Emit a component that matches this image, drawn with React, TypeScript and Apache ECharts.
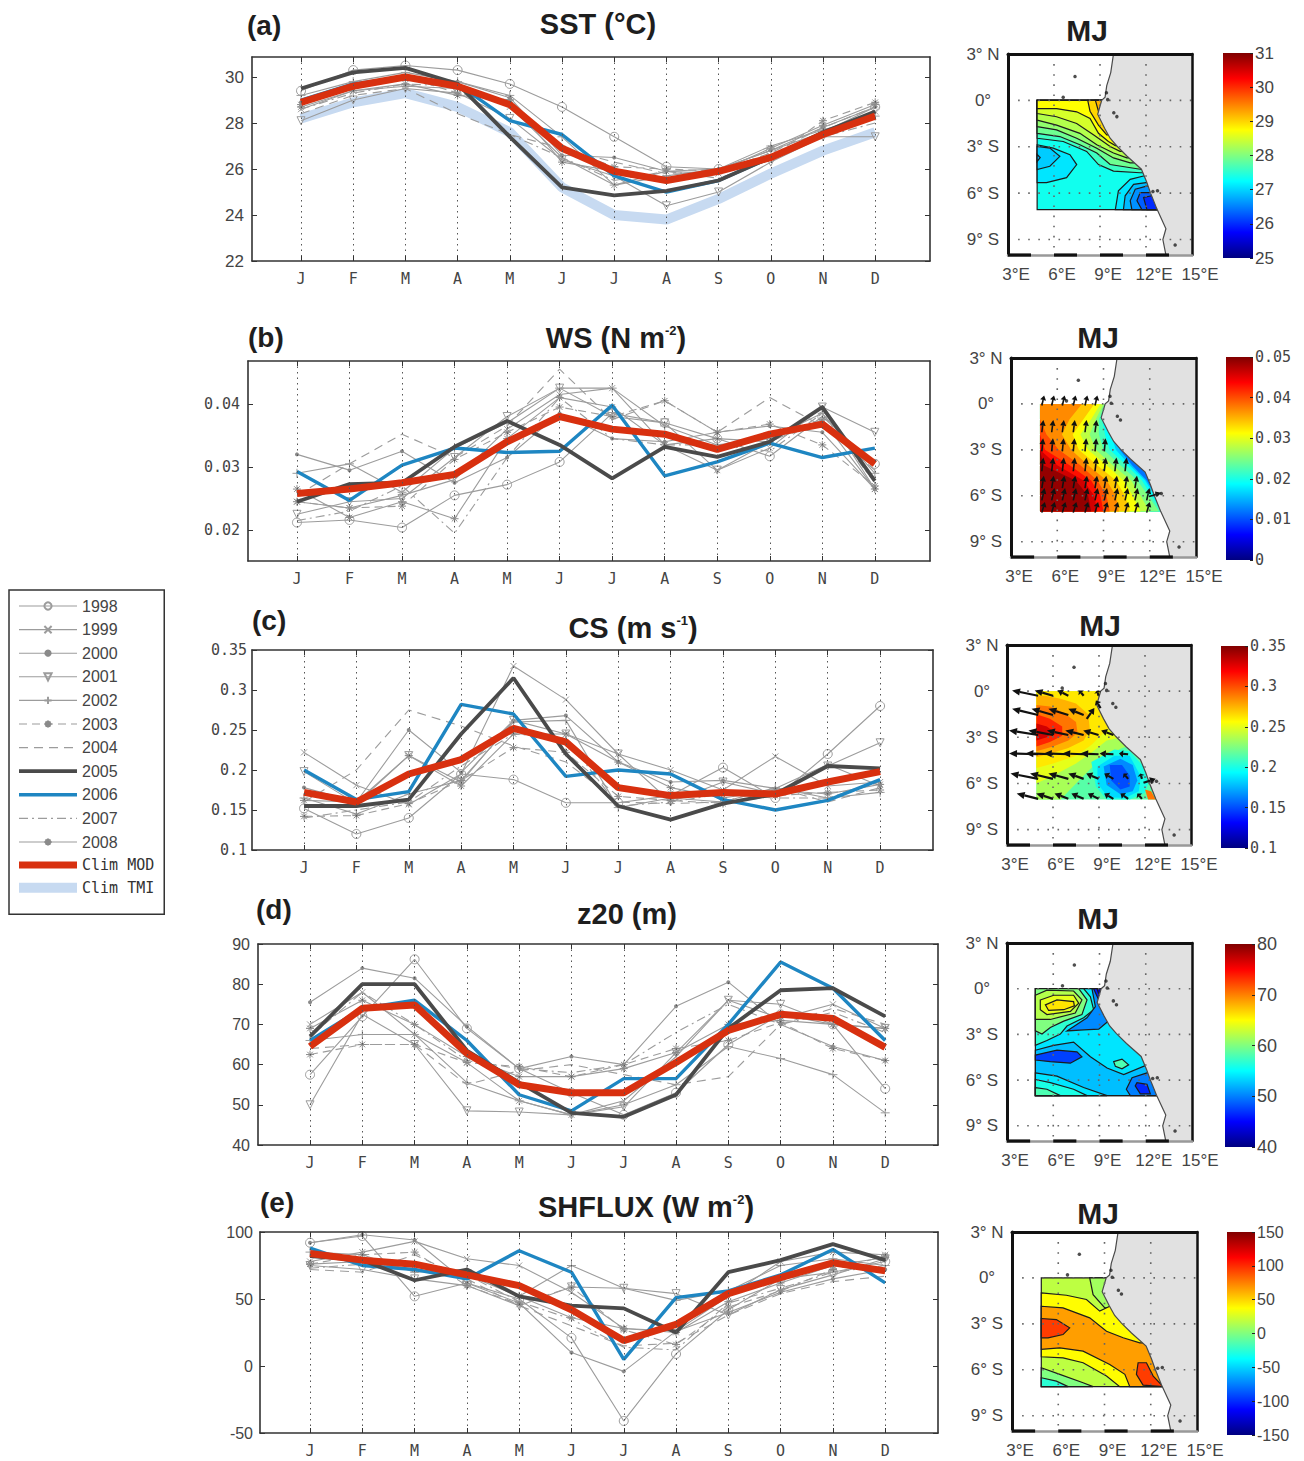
import React, { useEffect, useRef } from "react";
import * as echarts from "echarts";

const MONTHS = ["J", "F", "M", "A", "M", "J", "J", "A", "S", "O", "N", "D"];
const MONTH_TICKS = [1, 2, 3, 4, 5, 6, 7, 8, 9, 10, 11, 12];
const YEARS = ["1998", "1999", "2000", "2001", "2002", "2003", "2004", "2005", "2006", "2007", "2008"];

const SST_YEARS = [
  [29.4, 30.3, 30.5, 30.3, 29.7, 28.7, 27.4, 26.1, 26.0, 26.8, 27.6, 28.7],
  [28.6, 29.4, 29.6, 29.5, 28.7, 26.5, 25.3, 25.9, 25.8, 26.5, 27.5, 28.5],
  [28.9, 29.6, 29.9, 29.8, 29.1, 26.6, 26.5, 25.9, 26.0, 26.8, 27.8, 28.7],
  [28.1, 29.0, 29.5, 29.3, 28.2, 26.4, 25.7, 24.4, 25.0, 26.3, 27.4, 27.4],
  [29.2, 29.8, 30.2, 29.8, 29.2, 27.4, 25.3, 25.7, 26.0, 27.0, 27.7, 28.3],
  [28.8, 29.5, 30.0, 29.3, 29.0, 26.9, 26.1, 26.0, 25.9, 26.5, 28.1, 28.9],
  [28.4, 29.2, 29.5, 28.4, 27.5, 26.9, 26.3, 25.8, 25.9, 26.7, 27.8, 28.7],
  [29.5, 30.2, 30.4, 29.7, 27.4, 25.2, 24.85, 25.05, 25.5, 26.5, 27.6, 28.5],
  [29.0, 29.7, 30.0, 29.7, 28.1, 27.5, 25.7, 25.0, 25.5, 26.5, 27.5, 28.3],
  [28.6, 29.3, 29.7, 29.6, 27.5, 26.5, 25.5, 25.9, 25.6, 26.4, 27.4, 28.0],
  [28.7, 29.4, 29.7, 29.2, 29.0, 26.3, 25.9, 25.6, 25.9, 26.9, 27.9, 28.8],
];
const SST_CLIM_MOD = [28.9, 29.6, 30.0, 29.6, 28.8, 26.9, 25.9, 25.5, 25.9, 26.5, 27.5, 28.3];
const SST_CLIM_TMI = [28.2, 28.9, 29.3, 28.7, 27.6, 25.2, 24.0, 23.8, 24.7, 25.8, 26.8, 27.6];

const WS_YEARS = [
  [0.0212, 0.0216, 0.0204, 0.0255, 0.0272, 0.0308, 0.0385, 0.037, 0.0345, 0.0317, 0.038, 0.0305],
  [0.0245, 0.0235, 0.0255, 0.028, 0.036, 0.0415, 0.0425, 0.0335, 0.0295, 0.033, 0.0395, 0.0265],
  [0.032, 0.0295, 0.0325, 0.0275, 0.0315, 0.0385, 0.0345, 0.034, 0.0355, 0.0365, 0.0355, 0.0265],
  [0.0225, 0.0245, 0.025, 0.0315, 0.038, 0.0425, 0.038, 0.037, 0.0295, 0.034, 0.0395, 0.0355],
  [0.029, 0.0305, 0.026, 0.033, 0.037, 0.0425, 0.0425, 0.0365, 0.0335, 0.0345, 0.0385, 0.029],
  [0.0245, 0.0235, 0.0238, 0.0312, 0.0355, 0.0395, 0.038, 0.0405, 0.0355, 0.0368, 0.0335, 0.027],
  [0.0255, 0.0305, 0.0352, 0.0315, 0.0365, 0.0455, 0.0375, 0.0405, 0.0355, 0.041, 0.0365, 0.0295],
  [0.0245, 0.0273, 0.0275, 0.0332, 0.0373, 0.0335, 0.0282, 0.0332, 0.0316, 0.034, 0.0395, 0.0278],
  [0.0293, 0.0247, 0.0303, 0.033, 0.0323, 0.0325, 0.0398, 0.0286, 0.0308, 0.0338, 0.0315, 0.033],
  [0.0215, 0.023, 0.027, 0.0195, 0.0315, 0.041, 0.0345, 0.0335, 0.0335, 0.0325, 0.0385, 0.0275],
  [0.0265, 0.022, 0.0245, 0.0218, 0.0345, 0.041, 0.0395, 0.0335, 0.0345, 0.034, 0.0375, 0.0265],
];
const WS_CLIM_MOD = [0.0258, 0.0265, 0.0275, 0.0288, 0.034, 0.038, 0.036, 0.0352, 0.0328, 0.0352, 0.0368, 0.0305];

const CS_YEARS = [
  [0.152, 0.12, 0.14, 0.195, 0.188, 0.159, 0.159, 0.168, 0.203, 0.165, 0.22, 0.28],
  [0.222, 0.181, 0.157, 0.195, 0.33, 0.288, 0.22, 0.2, 0.175, 0.217, 0.18, 0.185],
  [0.178, 0.16, 0.25, 0.197, 0.262, 0.268, 0.21, 0.185, 0.187, 0.177, 0.207, 0.18],
  [0.198, 0.158, 0.218, 0.185, 0.262, 0.245, 0.22, 0.16, 0.185, 0.17, 0.205, 0.234],
  [0.165, 0.145, 0.17, 0.187, 0.26, 0.262, 0.153, 0.165, 0.16, 0.178, 0.165, 0.172],
  [0.142, 0.143, 0.158, 0.187, 0.228, 0.222, 0.167, 0.162, 0.158, 0.168, 0.172, 0.175],
  [0.16, 0.2, 0.275, 0.255, 0.23, 0.21, 0.16, 0.158, 0.16, 0.178, 0.16, 0.178],
  [0.155, 0.155, 0.163, 0.245, 0.315, 0.22, 0.155, 0.138, 0.158, 0.17, 0.205, 0.202],
  [0.2, 0.163, 0.173, 0.282, 0.27, 0.192, 0.2, 0.195, 0.163, 0.15, 0.162, 0.188],
  [0.14, 0.15, 0.16, 0.205, 0.245, 0.24, 0.155, 0.16, 0.17, 0.165, 0.165, 0.185],
  [0.162, 0.16, 0.218, 0.18, 0.245, 0.245, 0.21, 0.178, 0.165, 0.175, 0.17, 0.182],
];
const CS_CLIM_MOD = [0.172, 0.16, 0.195, 0.213, 0.252, 0.235, 0.178, 0.168, 0.172, 0.17, 0.185, 0.198];

const Z20_YEARS = [
  [57.5, 72, 86.2, 69, 59, 53, 47.5, 53, 65, 72.5, 70, 54],
  [70, 78, 67.5, 60.5, 51, 47.5, 51, 62, 76, 71.5, 75, 69],
  [75.5, 84, 81.5, 69.5, 59, 62, 60, 74.5, 80.5, 70, 64.5, 61],
  [50, 72.5, 65, 48.5, 48.2, 47.5, 49.5, 63, 76, 75, 70, 69],
  [66, 67.5, 67.5, 55.5, 51, 47.5, 50, 55, 64.5, 61.5, 57.5, 48],
  [62.5, 65, 65, 60.5, 59.5, 57, 60, 64, 66, 70.5, 64, 61],
  [64, 65, 65, 55, 58.5, 60, 57.5, 55, 57, 70, 74, 70],
  [67, 80, 80, 63.5, 55.5, 48, 47, 52.5, 69, 78.5, 79, 72],
  [66, 74, 76, 66, 52.5, 48.5, 56.5, 56.5, 70, 85.5, 79, 66],
  [67, 78, 70, 61, 59, 58, 60, 68, 75, 70, 73, 68],
  [69, 76, 70, 62, 57, 57, 59, 63, 70, 71, 70, 69],
];
const Z20_CLIM_MOD = [64.5, 74, 74.8, 62.8, 55, 53, 53, 60.5, 68.5, 72.5, 71.5, 64.3];

const SHF_YEARS = [
  [92, 97, 52, 62, 50, 21, -41, 9, 42, 65, 70, 78],
  [78, 85, 93, 80, 75, 55, 28, 26, 52, 78, 85, 83],
  [92, 98, 94, 62, 47, 10, -4, 26, 40, 55, 65, 72],
  [75, 72, 65, 60, 45, 59, 58, 54, 38, 57, 68, 80],
  [85, 83, 70, 72, 52, 75, 58, 49, 56, 75, 80, 75],
  [76, 83, 85, 60, 46, 59, 27, 16, 44, 56, 72, 82],
  [72, 70, 83, 65, 45, 30, 15, 17, 38, 54, 63, 67],
  [82, 79, 64, 72, 52, 45, 43, 25, 70, 79, 91, 79],
  [88, 75, 72, 65, 86, 70, 5, 51, 56, 68, 87, 62],
  [73, 76, 75, 68, 48, 35, 14, 12, 47, 58, 70, 75],
  [76, 78, 72, 68, 52, 36, 28, 25, 48, 62, 75, 81],
];
const SHF_CLIM_MOD = [84, 79, 76, 68, 60, 42, 19, 31, 54, 66, 77, 71];

// Map data, in degrees of longitude and latitude
const COAST = [[9.88, 3], [9.7, 1.8], [9.44, 0.95], [9.33, 0.2], [9.11, 0], [8.85, -0.9], [9.3, -1.8], [9.66, -2.45], [10.1, -2.95], [10.75, -3.6], [11.7, -4.45], [12.05, -5.3], [12.3, -6], [12.7, -7], [13.3, -8.3], [13.1, -9], [13.3, -10]];
const LAND_EAST = [[15, -10], [15, 3]];
const SPECKS = [[7.37, 1.55], [6.6, 0.2], [9.9, -0.8], [10.1, -1.05], [12.75, -5.85], [12.45, -5.9], [9.42, 0.5], [9.5, 0.05], [13.9, -9.35]];
const MAP_LON_TICKS = [3, 6, 9, 12, 15];
const MAP_LAT_TICKS = [3, 0, -3, -6, -9];
const GRATICULE_LONS = [6, 9, 12];
const GRATICULE_LATS = [0, -3, -6, -9];
const BAR_STARTS = [3, 6, 9, 12];
const BAR_LENGTH = 1.5;

const SST_RINGS: [number, number[][]][] = [
  [27.35, [[4.9, 0], [14.4, 0], [14.4, -7.06], [4.9, -7.06]]],
  [27.6, [[4.9, -2.45], [6.6, -2.66], [8.13, -3.3], [8.9, -4.15], [9.88, -4.57], [11.62, -4.68], [14.4, -4.68], [14.4, 0], [4.9, 0]]],
  [27.9, [[4.9, -2.13], [6.38, -2.34], [7.69, -2.87], [8.79, -3.4], [9.66, -4.15], [11.73, -4.47], [14.4, -4.47], [14.4, 0], [4.9, 0]]],
  [28.1, [[4.9, -1.7], [6.17, -1.91], [7.48, -2.45], [8.79, -3.09], [9.88, -3.72], [10.97, -4.04], [14.4, -4.04], [14.4, 0], [4.9, 0]]],
  [28.3, [[4.9, -1.28], [6.17, -1.6], [7.69, -2.13], [8.79, -2.87], [9.88, -3.4], [10.75, -3.72], [14.4, -3.72], [14.4, 0], [4.9, 0]]],
  [28.5, [[4.9, -0.85], [6.17, -1.06], [7.48, -1.49], [8.57, -2.23], [9.66, -2.98], [10.31, -3.3], [14.4, -3.3], [14.4, 0], [4.9, 0]]],
  [28.75, [[4.9, -0.53], [6.17, -0.53], [7.48, -0.74], [8.35, -1.17], [8.9, -2.13], [9.55, -2.66], [10, -2.92], [14.4, -2.92], [14.4, 0], [4.9, 0]]],
  [29.0, [[8.2, 0], [8.35, -0.7], [8.9, -1.6], [9.44, -2.23], [14.4, -2.23], [14.4, 0]]],
  [29.2, [[8.7, 0], [8.9, -0.7], [9.2, -1.3], [14.4, -1.3], [14.4, 0]]],
  [27.1, [[4.9, -2.87], [5.95, -3.09], [7.04, -3.51], [7.48, -4.15], [6.82, -5], [5.51, -5.32], [4.9, -5.32]]],
  [26.95, [[4.9, -2.98], [5.73, -3.09], [6.38, -3.62], [5.73, -4.26], [4.9, -4.47]]],
  [26.8, [[4.9, -3.5], [5.1, -3.7], [4.9, -3.95]]],
  [27.1, [[11.84, -4.89], [10.97, -5.11], [10.2, -5.85], [10, -7.06], [14.4, -7.06], [14.4, -4.89]]],
  [26.85, [[12, -5.32], [11.19, -5.43], [10.64, -6.17], [10.53, -7.06], [14.4, -7.06], [14.4, -5.32]]],
  [26.6, [[12.1, -5.53], [11.3, -5.74], [10.97, -6.49], [11.08, -7.06], [14.4, -7.06], [14.4, -5.53]]],
  [26.3, [[12.3, -5.96], [11.62, -5.96], [11.41, -6.49], [11.73, -7.06], [14.4, -7.06], [14.4, -5.96]]],
  [26.0, [[12.39, -6.17], [11.84, -6.28], [12.06, -7.06], [14.4, -7.06], [14.4, -6.17]]],
];

const WS_BAND_LATS = [0, -1, -2, -3, -4, -5, -6, -7.03];
const WS_BANDS: [number, number[]][] = [
  [0.012, [14, 14, 14, 14, 14, 14, 14, 14]],
  [0.016, [10, 9.6, 9.8, 10.05, 10.85, 11.8, 12.4, 13]],
  [0.019, [9.6, 9.1, 9.5, 9.8, 10.7, 11.7, 12.3, 13]],
  [0.022, [9.3, 8.9, 9.1, 9.4, 10.5, 11.5, 12.1, 12.8]],
  [0.025, [9.1, 8.7, 8.7, 9.0, 10.1, 11.2, 11.9, 12.6]],
  [0.028, [9.0, 8.5, 8.1, 8.5, 9.6, 10.8, 11.4, 12]],
  [0.031, [8.8, 8.2, 7.5, 8, 9.2, 10.3, 10.9, 11.4]],
  [0.034, [8.4, 7.7, 7, 7.4, 8.6, 9.8, 10.4, 10.7]],
  [0.037, [7.6, 6.8, 6.3, 6.9, 8, 9.2, 9.8, 10]],
  [0.04, [4.88, 4.88, 5.3, 6.1, 7.5, 8.6, 9.2, 9.4]],
  [0.043, [4.88, 4.88, 4.88, 5.2, 6.8, 8.2, 8.8, 9]],
  [0.046, [4.88, 4.88, 4.88, 4.88, 6, 7.7, 8.4, 8.6]],
  [0.049, [4.88, 4.88, 4.88, 4.88, 5.1, 7.2, 8, 8.2]],
];

const CS_RINGS: [number, number[][]][] = [
  [0.215, [[4.92, 0], [14, 0], [14, -7.05], [4.92, -7.05]]],
  [0.235, [[4.92, -7.05], [6.5, -7.05], [7.5, -6], [8.5, -5], [9.5, -4.2], [10.5, -3.7], [11.2, -3.5], [11.2, 0], [4.92, 0]]],
  [0.25, [[4.92, -6], [6, -5.5], [7.5, -4.7], [8.5, -4], [9.5, -3.2], [10.5, -3], [11.2, 0], [4.92, 0]]],
  [0.262, [[4.92, -5], [6, -4.7], [7.5, -4.2], [8.5, -3.5], [9.2, -2.8], [10, -2], [11, 0], [4.92, 0]]],
  [0.275, [[4.92, -4.3], [6, -4], [7, -3.7], [8, -3.2], [8.4, -2.5], [8.3, -1.5], [7.5, -0.8], [6.5, -0.5], [5.5, -0.3], [4.92, -0.3]]],
  [0.29, [[4.92, -3.9], [6, -3.6], [7, -3.2], [7.6, -2.7], [7.5, -2], [6.7, -1.4], [5.8, -1], [4.92, -0.9]]],
  [0.31, [[4.92, -3.6], [5.8, -3.3], [6.6, -2.9], [6.6, -2.3], [5.8, -1.8], [4.92, -1.5]]],
  [0.33, [[4.92, -3.2], [5.6, -3], [6, -2.6], [5.6, -2.3], [4.92, -2.1]]],
  [0.2, [[8.5, -4.6], [10, -3.8], [11, -3.9], [12, -5], [12.2, -6], [12, -6.6], [11, -7.05], [9.5, -7.05], [8.8, -6.2]]],
  [0.185, [[8.9, -4.9], [10, -4.2], [11, -4.2], [11.7, -5.5], [11.6, -6.5], [10.7, -6.95], [9.6, -6.9], [8.9, -6]]],
  [0.165, [[9.3, -4.9], [10.4, -4.4], [11.2, -4.8], [11.5, -5.8], [11.2, -6.5], [10.4, -6.7], [9.5, -6.1]]],
  [0.15, [[9.7, -4.8], [10.5, -4.8], [11, -5.5], [11, -6.2], [10.4, -6.4], [9.8, -5.8]]],
  [0.29, [[12, -6.4], [12.4, -6.5], [12.7, -7.05], [12.2, -7.05]]],
];

const Z20_RINGS: [number, number[][]][] = [
  [54, [[4.84, 0], [14, 0], [14, -7.02], [4.84, -7.02]]],
  [56.8, [[4.84, 0], [7.97, 0], [8.41, -0.53], [8.62, -1.38], [7.97, -1.91], [6.89, -2.45], [6.46, -2.98], [5.59, -3.4], [4.84, -3.72]]],
  [60, [[4.84, 0], [7.65, 0], [8.19, -0.74], [7.86, -1.7], [6.68, -2.13], [5.81, -2.55], [5.27, -2.98], [4.84, -2.77]]],
  [62, [[4.84, -0.43], [5.59, -0.1], [7.32, -0.15], [7.86, -0.74], [7.43, -1.6], [5.81, -2.02], [4.84, -2.02]]],
  [64, [[5.16, -0.74], [6.03, -0.43], [7.32, -0.43], [7.65, -0.95], [7.11, -1.49], [5.59, -1.7], [5.16, -1.38]]],
  [66, [[5.49, -1.06], [6.24, -0.74], [7.32, -0.85], [7.37, -1.13], [6.68, -1.38], [5.7, -1.43]]],
  [50.4, [[8.51, 0], [8.73, -1.17], [8.19, -1.91], [6.89, -2.77], [7.97, -2.7], [8.95, -2.66], [9.7, -2.02], [11.4, -2.02], [11.4, 0]]],
  [46, [[8.62, 0], [8.95, -0.74], [9.27, -1.17], [11.4, -1.17], [11.4, 0]]],
  [42, [[8.84, 0], [9.01, -0.53], [9.4, -0.74], [9.6, 0]]],
  [52.5, [[4.84, -4.04], [6.03, -3.72], [7.32, -3.51], [8.41, -4.47], [9.49, -5.21], [10.57, -5.64], [12.08, -5], [13.16, -5], [13.16, -7.02], [4.84, -7.02]]],
  [47.5, [[4.84, -4.36], [6.24, -4.04], [7.54, -4.15], [7.86, -4.47], [7.11, -4.89], [5.81, -4.79], [4.84, -4.68]]],
  [54, [[4.84, -5.53], [6.24, -5.74], [7.97, -6.49], [9.49, -7.02], [4.84, -7.02]]],
  [56, [[4.84, -5.96], [5.81, -6.17], [7.32, -6.6], [8.19, -7.02], [4.84, -7.02]]],
  [58, [[4.84, -6.49], [5.59, -6.6], [6.46, -7.02], [4.84, -7.02]]],
  [50, [[12.08, -5.53], [11.11, -5.85], [10.74, -6.6], [11, -7.02], [13.16, -7.02], [13.16, -5.53]]],
  [46.5, [[11.32, -6.38], [11.43, -6.17], [12.08, -6.28], [12.3, -6.91], [11.65, -6.91]]],
  [58, [[9.92, -4.79], [10.46, -4.62], [10.89, -5], [10.46, -5.26], [10.03, -5.1]]],
];

const SHF_RINGS: [number, number[][]][] = [
  [18, [[4.9, 0], [14.1, 0], [14.1, -7.1], [4.9, -7.1]]],
  [10, [[8.04, 0], [8.26, -1.09], [9.02, -1.96], [14.1, -1.96], [14.1, 0]]],
  [38, [[4.9, -0.98], [6.53, -1.13], [7.83, -1.41], [8.69, -2.17], [9.34, -1.85], [14.1, -1.85], [14.1, -7.1], [9.99, -7.1], [9.13, -6.41], [7.61, -5.54], [6.31, -5.22], [4.9, -5.15]]],
  [66, [[4.9, -1.85], [6.31, -1.96], [8.04, -2.61], [9.13, -3.48], [10.21, -3.91], [11.29, -4.24], [14.1, -4.24], [14.1, -7.1], [10.64, -7.1], [10.32, -6.3], [9.34, -5.65], [7.61, -4.78], [6.1, -4.57], [4.9, -4.67]]],
  [95, [[4.9, -2.65], [5.88, -2.72], [6.74, -3.26], [6.31, -3.7], [5.34, -3.91], [4.9, -3.91]]],
  [95, [[11.18, -5.54], [11.72, -5.54], [12.16, -6.41], [12.8, -7.1], [11.5, -7], [11.07, -6.3]]],
  [0, [[4.9, -5.87], [6.1, -6.3], [7.61, -6.85], [8.26, -7.1], [4.9, -7.1]]],
  [-25, [[4.9, -6.52], [5.88, -6.74], [6.64, -7.1], [4.9, -7.1]]],
];

// Arrows: [lon, lat, east extent, north extent], all in degrees
const WS_ARROW_COLS = [5.0, 5.64, 6.33, 7.04, 7.8, 8.45, 9.05, 9.74, 10.4, 11.04, 11.8];
const WS_ARROW_ROWS = [
  [-0.1, 6, 0.15, 0.65],
  [-1.85, 6, 0.1, 0.8],
  [-3.1, 7, 0.08, 0.85],
  [-4.4, 9, 0.1, 0.9],
  [-5.5, 10, 0.13, 0.8],
  [-6.3, 11, 0.18, 0.8],
  [-7.1, 11, 0.2, 0.7],
];
const WS_ARROW_EXTRA = [[11.95, -6.05, 0.8, 0.25]];
const CS_ARROW_COLS = [5.03, 6, 7, 8, 8.97, 9.94, 10.9, 11.8];
const CS_ARROW_ROWS: [number, number, number[]][] = [
  [-0.3, 0.35, [-1.7, -1.2, -0.7, -0.3, -0.1]],
  [-1.55, 0.4, [-1.7, -1.4, -1.3, -1.0]],
  [-2.85, 0.3, [-1.9, -1.6, -1.4, -1.2, -1.0, -0.8]],
  [-4.1, 0.05, [-1.9, -1.8, -1.6, -1.4, -1.2, -0.9, -0.6]],
  [-5.7, 0.35, [-1.8, -1.5, -1.3, -1.0, -0.8, -0.6, -0.3, -0.1]],
  [-7.0, 0.35, [-1.4, -1.1, -0.9, -0.8, -0.7, -0.6, -0.5, -0.3]],
];
const CS_ARROW_EXTRA = [[8.2, -1.8, 0.5, 0.7], [9.1, -1.1, -0.3, 0.5], [11.9, -5.95, 0.8, 0.25]];

const LINE_FONT = "'DejaVu Sans Mono', monospace";
const SANS = "'Liberation Sans', Arial, sans-serif";
const GRAY = "#9c9c9c";
const RED = "#d8300f";

const clamp01 = (v: number) => Math.max(0, Math.min(1, v));
const jet = (t: number) => {
  const r = clamp01(Math.min(4 * t - 1.5, -4 * t + 4.5));
  const g = clamp01(Math.min(4 * t - 0.5, -4 * t + 3.5));
  const b = clamp01(Math.min(4 * t + 0.5, -4 * t + 2.5));
  return `rgb(${Math.round(r * 255)},${Math.round(g * 255)},${Math.round(b * 255)})`;
};

const ASTERISK = "path://M5 0V10M0 5H10M1.5 1.5L8.5 8.5M8.5 1.5L1.5 8.5";
const yearStyle: Record<string, any> = {
  "1998": { symbol: "circle", symbolSize: 9, itemStyle: { color: "transparent", borderColor: GRAY, borderWidth: 1 } },
  "1999": { symbol: "path://M0 0L10 10M10 0L0 10", symbolSize: 6, itemStyle: { color: "transparent", borderColor: GRAY, borderWidth: 1 } },
  "2000": { symbol: "circle", symbolSize: 4, itemStyle: { color: "#8a8a8a" } },
  "2001": { symbol: "path://M0 0H10L5 10Z", symbolSize: 8, itemStyle: { color: "transparent", borderColor: GRAY, borderWidth: 1 } },
  "2002": { symbol: "path://M5 0V10M0 5H10", symbolSize: 9, itemStyle: { color: "transparent", borderColor: GRAY, borderWidth: 1 } },
  "2003": { symbol: ASTERISK, symbolSize: 8, itemStyle: { color: "#8a8a8a", borderColor: "#8a8a8a", borderWidth: 1 }, dash: [8, 5] },
  "2004": { symbol: "none", dash: [9, 6], itemStyle: { color: GRAY } },
  "2005": { symbol: "none", width: 3.8, line: "#4a4a4a", z: 5, itemStyle: { color: "#4a4a4a" } },
  "2006": { symbol: "none", width: 3.4, line: "#1e86c2", z: 4, itemStyle: { color: "#1e86c2" } },
  "2007": { symbol: "none", dash: [9, 4, 2, 4], itemStyle: { color: GRAY } },
  "2008": { symbol: ASTERISK, symbolSize: 8, itemStyle: { color: "#8a8a8a", borderColor: "#8a8a8a", borderWidth: 1 } },
};

const LEGEND_NAMES = [...YEARS, "Clim MOD", "Clim TMI"];
const LEGEND_NO_MARKER = ["2004", "2005", "2006", "2007", "Clim MOD", "Clim TMI"];

const linePanels = [
  { box: [252, 57, 930, 261], x: [0.061, 13.05], y: [22, 30.87], ticks: [22, 24, 26, 28, 30], years: SST_YEARS, clim: SST_CLIM_MOD, tmi: SST_CLIM_TMI, font: SANS, fontSize: 17, margin: 8 },
  { box: [248, 361, 930, 561], x: [0.068, 13.05], y: [0.0151, 0.0468], ticks: [0.02, 0.03, 0.04], years: WS_YEARS, clim: WS_CLIM_MOD, font: LINE_FONT, fontSize: 15, margin: 8 },
  { box: [252, 650, 933, 850], x: [0.007, 13.01], y: [0.1, 0.35], ticks: [0.1, 0.15, 0.2, 0.25, 0.3, 0.35], years: CS_YEARS, clim: CS_CLIM_MOD, font: LINE_FONT, fontSize: 15, margin: 5 },
  { box: [258, 944, 938, 1145], x: [0.005, 13.01], y: [40, 90], ticks: [40, 50, 60, 70, 80, 90], years: Z20_YEARS, clim: Z20_CLIM_MOD, font: SANS, fontSize: 16, margin: 8 },
  { box: [260, 1232, 938, 1433], x: [0.043, 13.01], y: [-50, 100], ticks: [-50, 0, 50, 100], years: SHF_YEARS, clim: SHF_CLIM_MOD, font: SANS, fontSize: 16, margin: 7 },
];

const wsRings: [number, number[][]][] = WS_BANDS.map(([level, lons]) => [
  level,
  [...lons.map((lon, i) => [lon, WS_BAND_LATS[i]]), [4.88, -7.03], [4.88, 0]],
]);
const wsArrows = [
  ...WS_ARROW_ROWS.flatMap(([lat, n, u, v]) => WS_ARROW_COLS.slice(0, n).map((lon) => [lon, lat, u, v])),
  ...WS_ARROW_EXTRA,
];
const csArrows = [
  ...CS_ARROW_ROWS.flatMap(([lat, v, us]) => us.map((u, i) => [CS_ARROW_COLS[i], lat, u, v])),
  ...CS_ARROW_EXTRA,
];

const mapPanels = [
  { box: [1008, 54, 1192, 255], rings: SST_RINGS, stroke: true, range: [25, 31], bar: [1223, 53, 1253, 258], barTicks: [25, 26, 27, 28, 29, 30, 31], font: SANS, barFont: 17, arrows: [] as number[][], shaft: 0, head: 0 },
  { box: [1011, 358, 1196, 557], rings: wsRings, stroke: false, range: [0, 0.05], bar: [1226, 357, 1253, 560], barTicks: [0, 0.01, 0.02, 0.03, 0.04, 0.05], font: LINE_FONT, barFont: 15, arrows: wsArrows, shaft: 1.6, head: 3 },
  { box: [1007, 645, 1191, 845], rings: CS_RINGS, stroke: false, range: [0.1, 0.35], bar: [1221, 646, 1248, 848], barTicks: [0.1, 0.15, 0.2, 0.25, 0.3, 0.35], font: LINE_FONT, barFont: 15, arrows: csArrows, shaft: 2.2, head: 3.6 },
  { box: [1007, 943, 1192, 1141], rings: Z20_RINGS, stroke: true, range: [40, 80], bar: [1225, 944, 1255, 1147], barTicks: [40, 50, 60, 70, 80], font: SANS, barFont: 18, arrows: [] as number[][], shaft: 0, head: 0 },
  { box: [1012, 1232, 1197, 1431], rings: SHF_RINGS, stroke: true, range: [-150, 150], bar: [1227, 1232, 1255, 1435], barTicks: [-150, -100, -50, 0, 50, 100, 150], font: SANS, barFont: 16, arrows: [] as number[][], shaft: 0, head: 0 },
];

const titles: any[] = [
  { text: "(a)", left: 247, top: 25, size: 28, align: "left" },
  { text: "SST (°C)", left: 598, top: 24, size: 29, align: "center" },
  { text: "(b)", left: 248, top: 337, size: 28, align: "left" },
  { text: "{b|WS (N m}{s|-2}{b|)}", left: 616, top: 338, size: 29, align: "center" },
  { text: "(c)", left: 252, top: 620, size: 28, align: "left" },
  { text: "{b|CS (m s}{s|-1}{b|)}", left: 633, top: 628, size: 29, align: "center" },
  { text: "(d)", left: 256, top: 909, size: 28, align: "left" },
  { text: "z20 (m)", left: 627, top: 914, size: 29, align: "center" },
  { text: "(e)", left: 260, top: 1202, size: 28, align: "left" },
  { text: "{b|SHFLUX (W m}{s|-2}{b|)}", left: 646, top: 1207, size: 29, align: "center" },
  { text: "MJ", left: 1087, top: 30, size: 30, align: "center" },
  { text: "MJ", left: 1098, top: 337, size: 30, align: "center" },
  { text: "MJ", left: 1100, top: 625, size: 30, align: "center" },
  { text: "MJ", left: 1098, top: 918, size: 30, align: "center" },
  { text: "MJ", left: 1098, top: 1213, size: 30, align: "center" },
];

function buildOption() {
  const grid: any[] = [];
  const xAxis: any[] = [];
  const yAxis: any[] = [];
  const series: any[] = [];

  const addGrid = (box: number[]) => {
    grid.push({ left: box[0], top: box[1], width: box[2] - box[0], height: box[3] - box[1], containLabel: false, show: false });
    return grid.length - 1;
  };

  linePanels.forEach((p) => {
    const g = addGrid(p.box);
    const xIndex = xAxis.length;
    const yIndex = yAxis.length;
    const frame = { show: true, onZero: false, lineStyle: { color: "#333", width: 1.6 } };
    xAxis.push({
      type: "value", gridIndex: g, position: "bottom", min: p.x[0], max: p.x[1], z: 10, axisLine: frame,
      axisTick: { show: true, inside: true, length: 5, customValues: MONTH_TICKS, lineStyle: { color: "#333" } },
      axisLabel: { show: true, customValues: MONTH_TICKS, formatter: (v: number) => MONTHS[v - 1], fontFamily: LINE_FONT, fontSize: 15, color: "#444", margin: 10 },
      splitLine: { show: true, lineStyle: { type: [1.5, 4], color: "#555", width: 1 } },
    });
    xAxis.push({
      type: "value", gridIndex: g, position: "top", min: p.x[0], max: p.x[1], z: 10, axisLine: frame,
      axisTick: { show: true, inside: true, length: 5, customValues: MONTH_TICKS, lineStyle: { color: "#333" } },
      axisLabel: { show: false }, splitLine: { show: false },
    });
    yAxis.push({
      type: "value", gridIndex: g, position: "left", min: p.y[0], max: p.y[1], z: 10, axisLine: frame,
      axisTick: { show: true, inside: true, length: 5, customValues: p.ticks, lineStyle: { color: "#333" } },
      axisLabel: { show: true, customValues: p.ticks, fontFamily: p.font, fontSize: p.fontSize, color: "#444", margin: p.margin },
      splitLine: { show: false },
    });
    yAxis.push({
      type: "value", gridIndex: g, position: "right", min: p.y[0], max: p.y[1], z: 10, axisLine: frame,
      axisTick: { show: true, inside: true, length: 5, customValues: p.ticks, lineStyle: { color: "#333" } },
      axisLabel: { show: false }, splitLine: { show: false },
    });
    const common = { type: "line", xAxisIndex: xIndex, yAxisIndex: yIndex, silent: true, animation: false };
    if (p.tmi) {
      series.push({
        ...common, name: "Clim TMI", z: 2, symbol: "none", lineStyle: { color: "#c7daf1", width: 10 }, itemStyle: { color: "#c7daf1" },
        data: p.tmi.map((v, i) => [MONTH_TICKS[i], v]),
      });
    }
    YEARS.forEach((name, k) => {
      const s = yearStyle[name];
      series.push({
        ...common, name, z: s.z || 3, symbol: s.symbol, symbolSize: s.symbolSize, showSymbol: s.symbol !== "none",
        lineStyle: { color: s.line || GRAY, width: s.width || 1.1, type: s.dash || "solid" }, itemStyle: s.itemStyle,
        data: p.years[k].map((v, i) => [MONTH_TICKS[i], v]),
      });
    });
    series.push({
      ...common, name: "Clim MOD", z: 6, symbol: "none", lineStyle: { color: RED, width: 7 }, itemStyle: { color: RED },
      data: p.clim.map((v, i) => [MONTH_TICKS[i], v]),
    });
  });

  mapPanels.forEach((p) => {
    const g = addGrid(p.box);
    const xIndex = xAxis.length;
    const yIndex = yAxis.length;
    const thick = (width: number, color = "#111") => ({ show: true, onZero: false, lineStyle: { color, width } });
    xAxis.push({
      type: "value", gridIndex: g, position: "bottom", min: 3, max: 15, z: 10, axisLine: thick(2.5, "#999"),
      axisTick: { show: false }, splitLine: { show: false },
      axisLabel: { show: true, customValues: MAP_LON_TICKS, formatter: (v: number) => `${v}°E`, fontFamily: SANS, fontSize: 17, color: "#444", margin: 11, padding: [0, 0, 0, 16] },
    });
    xAxis.push({ type: "value", gridIndex: g, position: "top", min: 3, max: 15, z: 10, axisLine: thick(3), axisTick: { show: false }, axisLabel: { show: false }, splitLine: { show: false } });
    yAxis.push({
      type: "value", gridIndex: g, position: "left", min: -10, max: 3, z: 10, axisLine: thick(3), axisTick: { show: false }, splitLine: { show: false },
      axisLabel: { show: true, customValues: MAP_LAT_TICKS, formatter: (v: number) => (v > 0 ? `${v}° N` : v < 0 ? `${-v}° S` : "0°"), fontFamily: SANS, fontSize: 17, color: "#444", margin: 25, align: "center", padding: [10, 0, 0, 0] },
    });
    yAxis.push({ type: "value", gridIndex: g, position: "right", min: -10, max: 3, z: 10, axisLine: thick(2.5), axisTick: { show: false }, axisLabel: { show: false }, splitLine: { show: false } });

    const base = { type: "custom", xAxisIndex: xIndex, yAxisIndex: yIndex, silent: true, animation: false, clip: true };
    const [lo, hi] = p.range;
    series.push({
      ...base, z: 2, data: p.rings.map((_, i) => [i, 0]),
      renderItem: (params: any, api: any) => {
        const [level, ring] = p.rings[params.dataIndex];
        return {
          type: "polygon",
          shape: { points: ring.map((c) => api.coord(c)) },
          style: { fill: jet((level - lo) / (hi - lo)), stroke: p.stroke ? "#1c1c1c" : "transparent", lineWidth: p.stroke ? 1.2 : 0 },
        };
      },
    });
    const landRing = [...COAST, ...LAND_EAST];
    series.push({
      ...base, z: 3, data: [[0, 0]],
      renderItem: (_: any, api: any) => ({
        type: "polygon",
        shape: { points: landRing.map((c) => api.coord(c)) },
        style: { fill: "#e1e1e1", stroke: "transparent" },
      }),
    });
    series.push({
      ...base, z: 4, data: [[0, 0]],
      renderItem: (_: any, api: any) => ({
        type: "polyline",
        shape: { points: COAST.map((c) => api.coord(c)) },
        style: { fill: "none", stroke: "#4a4a4a", lineWidth: 1.2 },
      }),
    });
    const graticule = [
      ...GRATICULE_LONS.map((lon) => [[lon, 3], [lon, -10]]),
      ...GRATICULE_LATS.map((lat) => [[3, lat], [15, lat]]),
    ];
    series.push({
      ...base, z: 5, data: graticule.map((_, i) => [i, 0]),
      renderItem: (params: any, api: any) => {
        const [a, b] = graticule[params.dataIndex];
        const pa = api.coord(a);
        const pb = api.coord(b);
        return {
          type: "line",
          shape: { x1: pa[0], y1: pa[1], x2: pb[0], y2: pb[1] },
          style: { stroke: "#666", lineWidth: 1.6, lineDash: [1.6, 8.5] },
        };
      },
    });
    if (p.arrows.length) {
      const arrows = p.arrows;
      series.push({
        ...base, z: 6, data: arrows.map((_, i) => [i, 0]),
        renderItem: (params: any, api: any) => {
          const [lon, lat, u, v] = arrows[params.dataIndex];
          const a = api.coord([lon, lat]);
          const b = api.coord([lon + u, lat + v]);
          const len = Math.hypot(b[0] - a[0], b[1] - a[1]) || 1;
          const ux = (b[0] - a[0]) / len;
          const uy = (b[1] - a[1]) / len;
          const hl = Math.min(8, len * 0.45);
          const neck = [b[0] - ux * hl, b[1] - uy * hl];
          return {
            type: "group",
            children: [
              { type: "line", shape: { x1: a[0], y1: a[1], x2: neck[0], y2: neck[1] }, style: { stroke: "#111", lineWidth: p.shaft } },
              { type: "polygon", shape: { points: [b, [neck[0] - uy * p.head, neck[1] + ux * p.head], [neck[0] + uy * p.head, neck[1] - ux * p.head]] }, style: { fill: "#111" } },
            ],
          };
        },
      });
    }
    series.push({
      type: "scatter", xAxisIndex: xIndex, yAxisIndex: yIndex, silent: true, animation: false, z: 7, symbolSize: 3.5,
      itemStyle: { color: "#222" }, data: SPECKS,
    });
    series.push({
      ...base, clip: false, z: 12, data: BAR_STARTS.map((_, i) => [i, 0]),
      renderItem: (params: any, api: any) => {
        const lon = BAR_STARTS[params.dataIndex];
        const a = api.coord([lon, -10]);
        const b = api.coord([lon + BAR_LENGTH, -10]);
        return { type: "line", shape: { x1: a[0], y1: a[1], x2: b[0], y2: b[1] }, style: { stroke: "#111", lineWidth: 3.2 } };
      },
    });

    // colour bar
    const gb = addGrid(p.bar);
    const barX = xAxis.length;
    const barY = yAxis.length;
    xAxis.push({ type: "value", gridIndex: gb, min: 0, max: 1, show: false });
    yAxis.push({
      type: "value", gridIndex: gb, position: "right", min: lo, max: hi, z: 10,
      axisLine: { show: false, onZero: false },
      axisTick: { show: true, inside: true, length: 3, customValues: p.barTicks, lineStyle: { color: "#222" } },
      splitLine: { show: false },
      axisLabel: { show: true, customValues: p.barTicks, fontFamily: p.font, fontSize: p.barFont, color: "#444", margin: 2 },
    });
    const stops = [0, 0.125, 0.25, 0.375, 0.5, 0.625, 0.75, 0.875, 1];
    series.push({
      type: "custom", xAxisIndex: barX, yAxisIndex: barY, silent: true, animation: false, z: 2, data: [[0, lo]],
      renderItem: (_: any, api: any) => {
        const a = api.coord([0, hi]);
        const b = api.coord([1, lo]);
        return {
          type: "rect",
          shape: { x: a[0], y: a[1], width: b[0] - a[0], height: b[1] - a[1] },
          style: {
            fill: new echarts.graphic.LinearGradient(0, 0, 0, 1, stops.map((s) => ({ offset: s, color: jet(1 - s) }))),
          },
        };
      },
    });
  });

  return {
    animation: false,
    backgroundColor: "#ffffff",
    title: titles.map((t) => ({
      text: t.text,
      left: t.left,
      top: t.top,
      padding: 0,
      textAlign: t.align,
      textVerticalAlign: "middle",
      textStyle: {
        fontFamily: SANS, fontWeight: "bold", fontSize: t.size, color: "#1e1e1e",
        rich: {
          b: { fontFamily: SANS, fontWeight: "bold", fontSize: t.size, color: "#1e1e1e" },
          s: { fontFamily: SANS, fontWeight: "bold", fontSize: 13, color: "#1e1e1e", verticalAlign: "top", padding: [0, 0, 8, 0] },
        },
      },
    })),
    legend: {
      show: true,
      orient: "vertical",
      left: 9,
      top: 590,
      data: LEGEND_NAMES.map((name) =>
        LEGEND_NO_MARKER.includes(name) ? { name, itemStyle: { opacity: 0 } } : { name }
      ),
      itemWidth: 58,
      itemHeight: 9,
      itemGap: 7.6,
      padding: [8, 10, 19, 5],
      borderColor: "#333",
      borderWidth: 1.5,
      selectedMode: false,
      lineStyle: { width: "inherit" },
      formatter: (name: string) => (name.startsWith("Clim") ? `{m|${name}}` : `{y|${name}}`),
      textStyle: {
        rich: {
          y: { fontFamily: SANS, fontSize: 16, color: "#444" },
          m: { fontFamily: LINE_FONT, fontSize: 15, color: "#333" },
        },
      },
    },
    grid,
    xAxis,
    yAxis,
    series,
  };
}

export default function App() {
  const ref = useRef<HTMLDivElement>(null);
  useEffect(() => {
    if (!ref.current) return;
    const chart = echarts.init(ref.current, undefined, { renderer: "svg" });
    chart.setOption(buildOption() as any);
    return () => chart.dispose();
  }, []);
  return <div ref={ref} style={{ position: "absolute", left: 0, top: 0, width: 1304, height: 1461 }} />;
}
